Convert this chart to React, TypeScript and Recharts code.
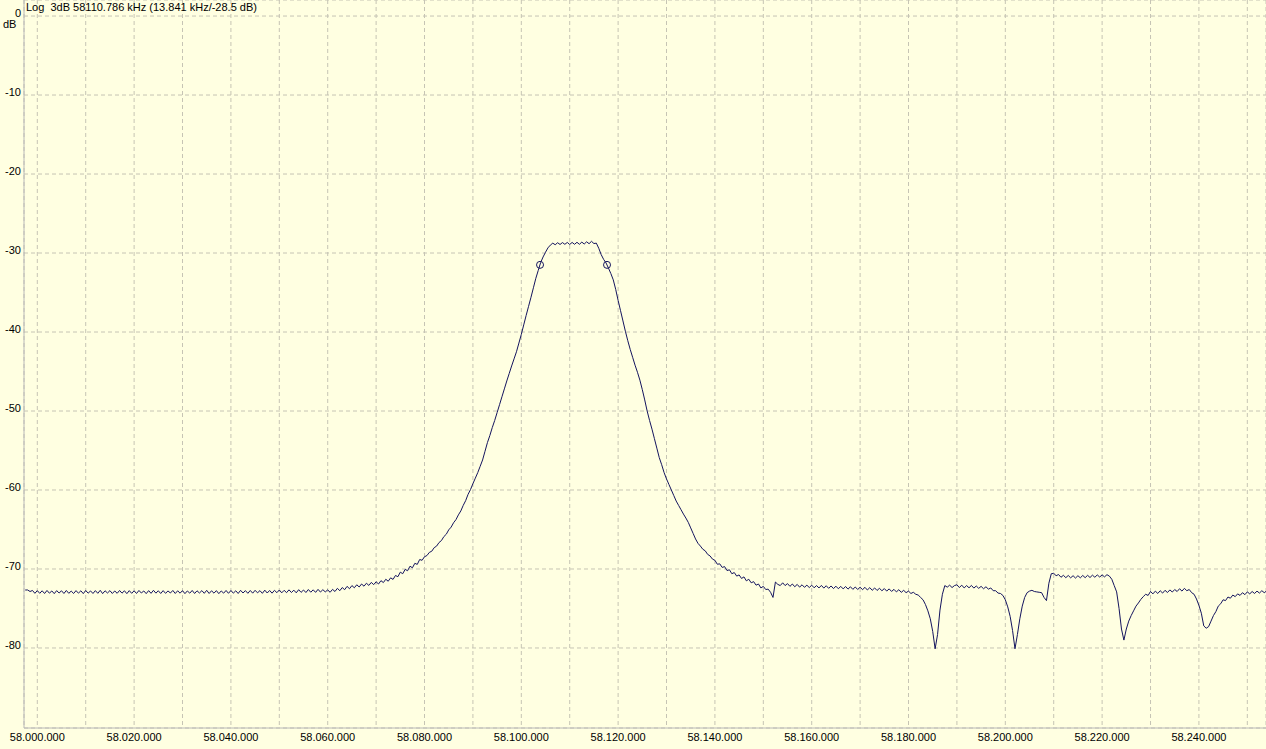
import React from 'react';
import { ComposedChart, Line, XAxis, YAxis, CartesianGrid, ReferenceDot } from 'recharts';

// Sweep grid (kHz) and measured level (dB) per sample
const START_KHZ = 57997.5;
const STEP_KHZ = 0.5;

const levelsDb: number[] = [
  // 57997.5 .. 57999.5
  -72.66, -72.66, -72.85, -72.72, -73.08,
  // 58000
  -72.74, -73.08, -72.76, -73.1, -72.72, -73.06, -72.78, -73.12, -72.74, -73.04,
  -72.76, -73.1, -72.72, -73.08, -72.8, -73.1, -72.74, -73.06, -72.76, -73.12,
  // 58010
  -72.72, -73.06, -72.78, -73.1, -72.74, -73.08, -72.7, -73.12, -72.76, -73.04,
  -72.74, -73.1, -72.78, -73.08, -72.72, -73.06, -72.76, -73.12, -72.74, -73.08,
  // 58020
  -72.76, -73.1, -72.72, -73.04, -72.78, -73.12, -72.74, -73.08, -72.7, -73.06,
  -72.76, -73.1, -72.74, -73.08, -72.78, -73.04, -72.72, -73.1, -72.76, -73.06,
  // 58030
  -72.74, -73.12, -72.78, -73.06, -72.72, -73.1, -72.76, -73.04, -72.74, -73.08,
  -72.7, -73.1, -72.76, -73.06, -72.74, -73.12, -72.78, -73.06, -72.72, -73.08,
  // 58040
  -72.72, -73.06, -72.76, -73.1, -72.7, -73.04, -72.74, -73.08, -72.72, -73.06,
  -72.7, -73.02, -72.74, -73.08, -72.68, -73.04, -72.72, -73.06, -72.7, -73.0,
  // 58050
  -72.66, -73.02, -72.7, -73.0, -72.64, -72.98, -72.68, -73.02, -72.62, -72.96,
  -72.66, -72.98, -72.6, -72.94, -72.64, -72.96, -72.58, -72.92, -72.62, -72.9,
  // 58060
  -72.65, -72.95, -72.58, -72.85, -72.45, -72.75, -72.35, -72.62, -72.2, -72.5,
  -72.1, -72.38, -72.0, -72.28, -71.9, -72.18, -71.8, -72.08, -71.7, -71.98,
  // 58070
  -71.62, -71.9, -71.48, -71.72, -71.3, -71.55, -71.12, -71.32, -70.82, -70.98,
  -70.4, -70.6, -70.05, -70.22, -69.65, -69.85, -69.28, -69.42, -68.8, -68.9,
  // 58080
  -68.45, -68.3, -67.9, -67.75, -67.3, -67.1, -66.65, -66.4, -65.9, -65.6,
  -65.05, -64.7, -64.15, -63.75, -63.15, -62.65, -61.95, -61.35, -60.55, -59.95,
  // 58090
  -59.2, -58.5, -57.8, -57.0, -56.2, -55.1, -54.0, -53.1, -52.1, -51.2,
  -50.2, -49.2, -48.2, -47.2, -46.2, -45.25, -44.3, -43.4, -42.5, -41.4,
  // 58100
  -40.3, -39.1, -37.9, -36.75, -35.6, -34.4, -33.2, -32.2, -31.2, -30.5,
  -29.9, -29.35, -29.0, -28.75, -28.95, -28.7, -28.92, -28.68, -28.9, -28.66,
  // 58110
  -28.92, -28.66, -28.9, -28.64, -28.9, -28.62, -28.86, -28.58, -28.82, -28.52,
  -28.8, -28.75, -29.4, -30.2, -30.8, -31.25, -31.9, -32.6, -33.4, -34.6,
  // 58120
  -36.0, -37.3, -38.6, -39.9, -41.1, -42.2, -43.2, -44.2, -45.1, -46.1,
  -47.3, -48.6, -50.0, -51.2, -52.3, -53.5, -54.7, -55.9, -56.8, -57.8,
  // 58130
  -58.6, -59.3, -60.0, -60.7, -61.4, -61.95, -62.5, -63.05, -63.55, -64.1,
  -64.8, -65.5, -66.2, -66.75, -67.1, -67.5, -67.7, -68.15, -68.35, -68.75,
  // 58140
  -68.9, -69.4, -69.35, -69.8, -69.7, -70.2, -70.1, -70.6, -70.45, -70.9,
  -70.75, -71.2, -71.0, -71.5, -71.3, -71.75, -71.6, -72.05, -71.9, -72.4,
  // 58150
  -72.2, -72.6, -72.55, -72.95, -73.6, -71.65, -71.95, -72.1, -71.75, -72.1,
  -71.85, -72.2, -71.9, -72.25, -71.95, -72.3, -72.0, -72.32, -72.05, -72.35,
  // 58160
  -72.05, -72.38, -72.1, -72.4, -72.08, -72.42, -72.12, -72.45, -72.15, -72.48,
  -72.18, -72.5, -72.2, -72.52, -72.22, -72.55, -72.25, -72.58, -72.28, -72.6,
  // 58170
  -72.3, -72.62, -72.32, -72.66, -72.36, -72.7, -72.4, -72.72, -72.44, -72.76,
  -72.48, -72.8, -72.52, -72.84, -72.58, -72.9, -72.62, -72.96, -72.7, -73.0,
  // 58180
  -72.8, -73.1, -72.95, -73.2, -73.3, -73.6, -73.9, -74.5, -75.3, -76.3,
  -77.9, -80.1, -78.3, -75.2, -73.2, -72.1, -72.3, -72.05, -72.35, -72.1,
  // 58190
  -72.0, -72.35, -72.05, -72.4, -72.1, -72.38, -72.08, -72.42, -72.15, -72.45,
  -72.2, -72.5, -72.25, -72.55, -72.4, -72.75, -72.75, -73.05, -73.1, -73.35,
  // 58200
  -73.9, -74.8, -76.0, -77.8, -80.1, -78.3, -76.3, -74.7, -73.6, -73.0,
  -72.8, -72.7, -72.85, -72.9, -72.95, -73.0, -73.6, -74.0, -71.8, -70.6,
  // 58210
  -70.55, -70.85, -70.7, -71.05, -70.8, -71.1, -70.82, -71.12, -70.85, -71.15,
  -70.85, -71.12, -70.82, -71.1, -70.8, -71.08, -70.78, -71.05, -70.75, -71.02,
  // 58220
  -70.75, -71.0, -70.72, -70.9, -71.3, -72.1, -72.9, -75.0, -77.6, -79.0,
  -77.6, -76.6, -75.9, -75.3, -74.7, -74.3, -73.85, -73.5, -73.2, -73.35,
  // 58230
  -72.85, -73.15, -72.8, -73.1, -72.75, -73.05, -72.7, -72.98, -72.65, -72.92,
  -72.6, -72.85, -72.5, -72.8, -72.45, -72.75, -72.6, -73.0, -73.2, -73.8,
  // 58240
  -74.6, -75.6, -77.2, -77.5, -77.3, -76.6, -75.9, -75.4, -74.7, -74.4,
  -73.9, -74.0, -73.55, -73.7, -73.3, -73.5, -73.15, -73.35, -73.0, -73.25,
  // 58250
  -72.9, -73.15, -72.85, -73.1, -72.8, -73.05, -72.75, -73.0, -72.78,
];

// -3 dB markers (kHz, dB)
const markerFreqs = [58103.87, 58117.71];
const markerLevels = [-31.5, -31.5];

const xTicks = [
  58000, 58010, 58020, 58030, 58040, 58050, 58060, 58070, 58080, 58090, 58100, 58110, 58120,
  58130, 58140, 58150, 58160, 58170, 58180, 58190, 58200, 58210, 58220, 58230, 58240, 58250,
];
const xLabelEvery = 20;
const yTicks = [0, -10, -20, -30, -40, -50, -60, -70, -80];

const headerText = 'Log  3dB 58110.786 kHz (13.841 kHz/-28.5 dB)';
const yUnit = 'dB';

const data = levelsDb.map((db, i) => ({ f: START_KHZ + i * STEP_KHZ, db }));

const formatHz = (khz: number) => {
  const hz = String(Math.round(khz * 1000));
  return hz.replace(/\B(?=(\d{3})+(?!\d))/g, '.');
};

const FONT = '"Liberation Sans", Arial, sans-serif';
const LINE = '#14145e';

const XTick = (props: any) => {
  const { x, y, payload } = props;
  const v = payload.value as number;
  if (Math.round(v - 58000) % xLabelEvery !== 0) return <g />;
  return (
    <text x={x} y={y} dy={8} textAnchor="middle" fontSize={11} fontFamily={FONT} fill="#000">
      {formatHz(v)}
    </text>
  );
};

const YTick = (props: any) => {
  const { x, y, payload } = props;
  return (
    <text x={x} y={y} dy={1} textAnchor="end" fontSize={11} fontFamily={FONT} fill="#000">
      {payload.value}
    </text>
  );
};

export default function App() {
  return (
    <div
      style={{
        position: 'absolute',
        left: 0,
        top: 0,
        width: 1266,
        height: 749,
        background: '#FFFFE1',
        fontFamily: FONT,
        overflow: 'hidden',
      }}
    >
      <ComposedChart width={1266} height={749} data={data} margin={{ top: 0, right: 0, left: 0, bottom: 0 }}>
        <CartesianGrid stroke="#c6c4b4" strokeDasharray="4 3" />
        <XAxis
          dataKey="f"
          type="number"
          domain={[57997.25, 58253.86]}
          allowDataOverflow
          ticks={xTicks}
          interval={0}
          height={21}
          tickLine={false}
          tickSize={4}
          tickMargin={1}
          axisLine={{ stroke: '#b8b8b8' }}
          tick={<XTick />}
        />
        <YAxis
          type="number"
          domain={[-90.13, 2.03]}
          allowDataOverflow
          ticks={yTicks}
          interval={0}
          width={24}
          tickLine={false}
          tickSize={2}
          tickMargin={1}
          axisLine={{ stroke: '#b8b8b8' }}
          tick={<YTick />}
        />
        <Line
          dataKey="db"
          type="linear"
          stroke={LINE}
          strokeWidth={1}
          dot={false}
          activeDot={false}
          isAnimationActive={false}
        />
        {markerFreqs.map((f, i) => (
          <ReferenceDot
            key={i}
            x={f}
            y={markerLevels[i]}
            r={3.5}
            fill="none"
            stroke={LINE}
            strokeWidth={1}
          />
        ))}
      </ComposedChart>
      <div style={{ position: 'absolute', left: 26, top: 1, fontSize: 11, color: '#000', whiteSpace: 'pre' }}>
        {headerText}
      </div>
      <div style={{ position: 'absolute', left: 3, top: 18, fontSize: 11, color: '#000' }}>{yUnit}</div>
    </div>
  );
}
